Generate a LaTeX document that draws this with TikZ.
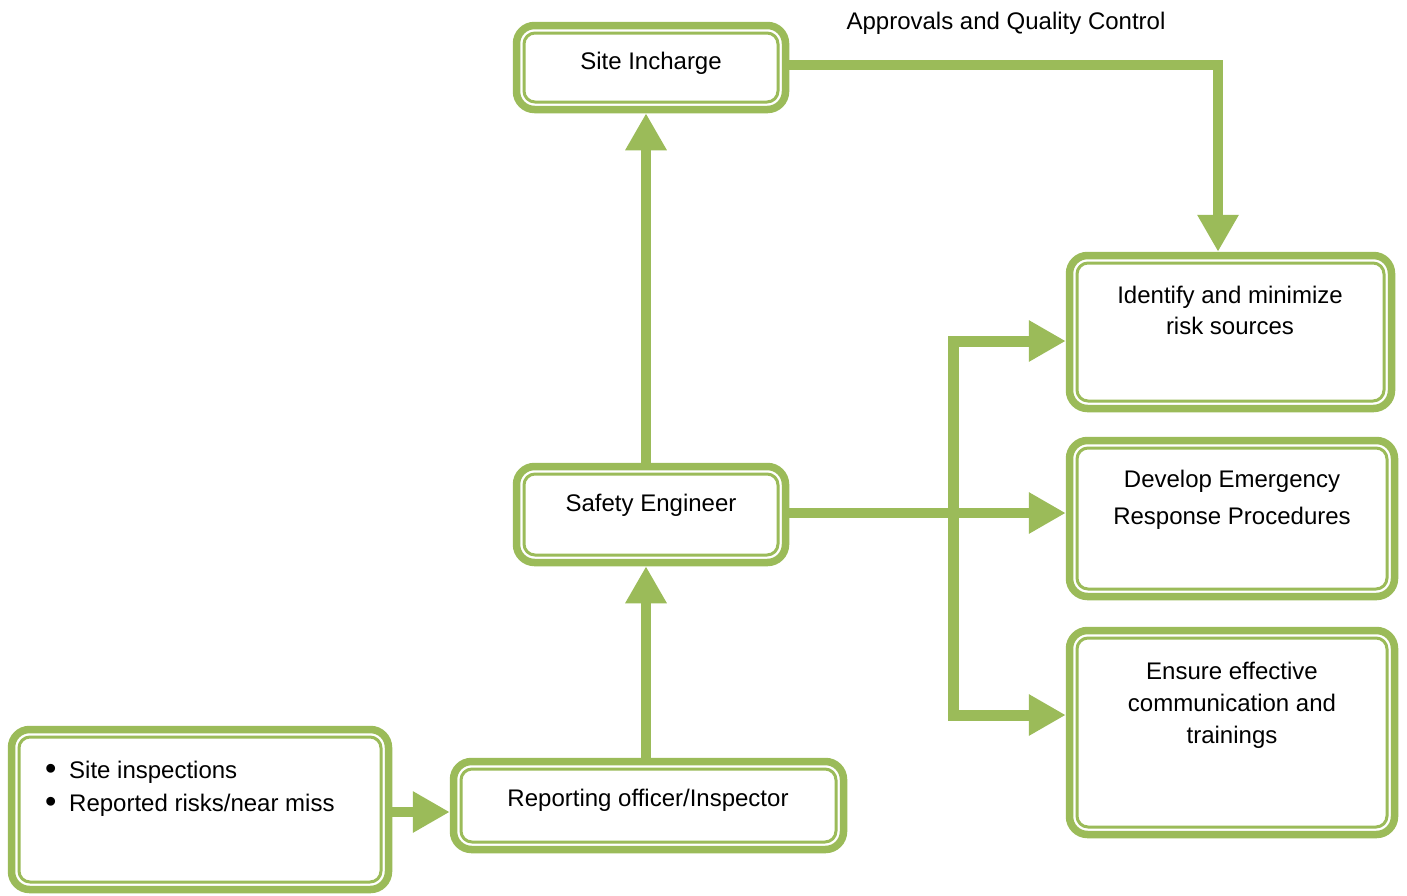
\documentclass[tikz,border=0pt]{standalone}
\usepackage{fontspec}
\setmainfont{Liberation Sans}
\usetikzlibrary{arrows.meta}
\definecolor{gr}{HTML}{9BBB59}
\tikzset{
  box/.style={draw=gr, line width=7.5pt, rounded corners=18pt, fill=white, inner sep=0pt,
    path picture={\draw[gr, line width=3pt, rounded corners=11pt]
      ([shift={(7.5pt,-7.5pt)}]path picture bounding box.north west) rectangle
      ([shift={(-7.5pt,7.5pt)}]path picture bounding box.south east);}},
  txt/.style={inner sep=0pt, align=center, font=\fontsize{24pt}{31pt}\selectfont},
  conn/.style={draw=gr, line width=10pt, line join=miter, -{Triangle[length=37pt,width=39pt]}},
}
\newcommand{\bul}{\makebox[24pt][l]{\raisebox{-0.5pt}{\scalebox{1.35}{•}}}}
\begin{document}
\begin{tikzpicture}[x=1pt,y=-1pt]
\path[fill=white] (0,0) rectangle (1407,895);
% boxes
\node[box, minimum width=269pt, minimum height=84pt]  (SI) at (651,67.5) {};
\node[box, minimum width=269pt, minimum height=96pt]  (SE) at (651,514.5) {};
\node[box, minimum width=390pt, minimum height=88pt]  (RO) at (648.5,805.5) {};
\node[box, minimum width=377pt, minimum height=160pt] (LB) at (200,809.5) {};
\node[box, minimum width=322pt, minimum height=153pt] (ID) at (1230.5,332) {};
\node[box, minimum width=325pt, minimum height=156pt] (DE) at (1232,518.5) {};
\node[box, minimum width=325pt, minimum height=204pt] (EN) at (1232,732.5) {};
% texts
\node[txt, anchor=base] (tSI) at (651,69.5) {Site Incharge};
\node[txt, anchor=base] (tSE) at (651,511) {Safety Engineer};
\node[txt, anchor=base] (tRO) at (648,806) {Reporting officer/Inspector};
\node[txt, anchor=base] (tAQ) at (1006,29.5) {Approvals and Quality Control};
\node[txt, anchor=north, font=\fontsize{24pt}{31pt}\selectfont] (tID) at (1230,286) {Identify and minimize\\risk sources};
\node[txt, anchor=north, font=\fontsize{24pt}{37pt}\selectfont] (tDE) at (1232,470) {Develop Emergency\\Response Procedures};
\node[txt, anchor=north, font=\fontsize{24pt}{32pt}\selectfont] (tEN) at (1232,662) {Ensure effective\\communication and\\trainings};
\node[txt, anchor=north west, align=left, font=\fontsize{24pt}{33pt}\selectfont] (tLB) at (45,761)
  {\bul Site inspections\\\bul Reported risks/near miss};
% connectors
\draw[conn] ([yshift=2.5pt]SI.east) -| ([xshift=-12.5pt]ID.north);
\draw[conn] ([xshift=-5pt]SE.north) -- ([xshift=-5pt]SI.south);
\draw[conn] ([xshift=-2.5pt]RO.north) -- ([xshift=-5pt]SE.south);
\draw[conn] ([yshift=-2.5pt]LB.east) coordinate (b) -- (b -| RO.west);
\draw[conn] ([yshift=1.5pt]SE.east) coordinate (a) -- (a -| DE.west);
\coordinate (br) at (953,513);
\draw[conn, line width=11pt, {Triangle[length=37pt,width=39pt]}-{Triangle[length=37pt,width=39pt]}]
  ([yshift=-9pt]ID.west) -| (br) |- ([yshift=17.5pt]EN.west);
\end{tikzpicture}
\end{document}
